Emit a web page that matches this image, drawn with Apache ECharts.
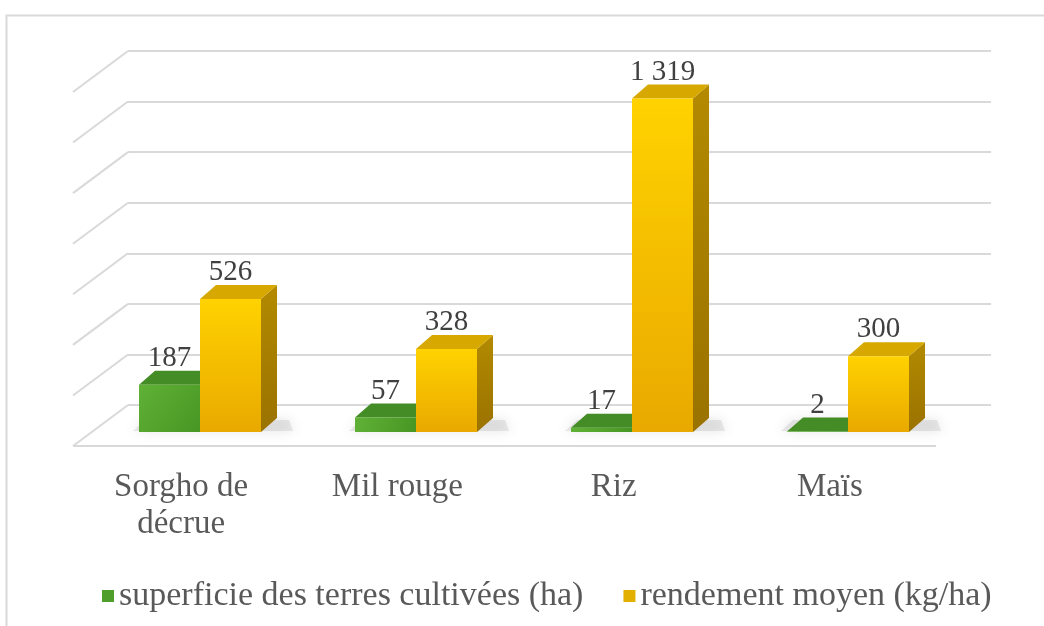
<!DOCTYPE html>
<html>
<head>
<meta charset="utf-8">
<script src="https://cdn.jsdelivr.net/npm/echarts@6/dist/echarts.min.js"></script>
<style>
  html, body { margin: 0; padding: 0; background: #ffffff; }
  #chart { width: 1044px; height: 626px; }
</style>
</head>
<body>
<div id="chart"></div>
<script>
// Crops and their figures
const categories = ['Sorgho de décrue', 'Mil rouge', 'Riz', 'Maïs'];
const superficie = [187, 57, 17, 2];          // superficie des terres cultivées (ha)
const rendement = [526, 328, 1319, 300];      // rendement moyen (kg/ha)
const seriesNames = ['superficie des terres cultivées (ha)', 'rendement moyen (kg/ha)'];
const axisTicks = [0, 200, 400, 600, 800, 1000, 1200, 1400];

const FONT = '"Liberation Serif", "Times New Roman", serif';
const DEPTH_X = 16, DEPTH_Y = -14;     // depth of each 3D bar
const WALL_X = -55, WALL_Y = 41;       // depth of the floor / side wall
const BAR_W = 61;

// French number format: space as thousands separator
function fmt(v) {
  return String(v).replace(/\B(?=(\d{3})+(?!\d))/g, ' ');
}

// long category names go on two lines (last word below)
function wrapLabel(v) {
  return v.length > 12 ? v.replace(/ (?=\S+$)/, '\n') : v;
}

const palettes = [
  { // green
    front: new echarts.graphic.LinearGradient(0, 0, 1, 1, [
      { offset: 0, color: '#60b136' }, { offset: 1, color: '#479624' }]),
    top: '#448c25', side: '#3a7a1e', legend: '#4f9e2c'
  },
  { // gold
    front: new echarts.graphic.LinearGradient(0, 0, 0, 1, [
      { offset: 0, color: '#ffd200' }, { offset: 1, color: '#e9a900' }]),
    top: '#d6a800', side: new echarts.graphic.LinearGradient(0, 0, 0, 1, [
      { offset: 0, color: '#b38a00' }, { offset: 1, color: '#9a7200' }]),
    legend: '#e2b000'
  }
];

function barRenderer(sIdx) {
  return function (params, api) {
    const cat = api.value(0), val = api.value(1);
    const base = api.coord([cat, 0]);
    const top = api.coord([cat, val]);
    const x0 = sIdx === 0 ? base[0] - BAR_W : base[0];
    const x1 = x0 + BAR_W;
    const yb = base[1], yt = Math.min(top[1], yb - 0.6);
    const p = palettes[sIdx];
    return {
      type: 'group',
      children: [
        { type: 'polygon', shape: { points: [[x1, yt], [x1 + DEPTH_X, yt + DEPTH_Y], [x1 + DEPTH_X, yb + DEPTH_Y], [x1, yb]] },
          style: { fill: p.side } },
        { type: 'polygon', shape: { points: [[x0, yt], [x0 + DEPTH_X, yt + DEPTH_Y], [x1 + DEPTH_X, yt + DEPTH_Y], [x1, yt]] },
          style: { fill: p.top } },
        { type: 'rect', shape: { x: x0, y: yt, width: BAR_W, height: yb - yt },
          style: { fill: p.front } },
        { type: 'text', x: (x0 + x1) / 2, y: yt + DEPTH_Y + 2,
          style: { text: fmt(val), font: '29px ' + FONT, fill: '#404040',
                   textAlign: 'center', textVerticalAlign: 'bottom' } }
      ]
    };
  };
}

// soft floor shadow behind each pair of bars
function shadowRenderer(params, api) {
  const cat = api.value(0);
  const base = api.coord([cat, 0]);
  const xl = base[0] - BAR_W, xr = base[0] + BAR_W;
  const yb = base[1];
  return {
    type: 'polygon',
    shape: { points: [[xl - 6, yb - 1], [xr + DEPTH_X + 16, yb - 1], [xr + DEPTH_X + 12, yb + DEPTH_Y + 2], [xl + 6, yb + DEPTH_Y + 2]] },
    style: { fill: 'rgba(170,170,170,0.25)', shadowBlur: 12, shadowColor: 'rgba(110,110,110,0.75)' }
  };
}

// side wall diagonals and floor front edge
function wallRenderer(params, api) {
  const v = api.value(0);
  const pt = api.coord([0, v]);
  const cs = params.coordSys;
  const x = cs.x, y = pt[1];
  const children = [
    { type: 'line', shape: { x1: x, y1: y, x2: x + WALL_X, y2: y + WALL_Y },
      style: { stroke: '#d9d9d9', lineWidth: 2 } }
  ];
  if (v === 0) {
    children.push({ type: 'line',
      shape: { x1: x + WALL_X, y1: y + WALL_Y, x2: x + cs.width + WALL_X, y2: y + WALL_Y },
      style: { stroke: '#d9d9d9', lineWidth: 2 } });
  }
  return { type: 'group', children: children };
}

const chart = echarts.init(document.getElementById('chart'), null, { renderer: 'canvas' });

chart.setOption({
  backgroundColor: '#ffffff',
  animation: false,
  graphic: [{
    type: 'rect', left: 4, top: 13, shape: { width: 1100, height: 700 },
    style: { fill: 'none', stroke: '#d9d9d9', lineWidth: 2 }, silent: true
  }],
  legend: {
    left: 97, top: 574,
    itemWidth: 12, itemHeight: 12, itemGap: 40,
    icon: 'rect',
    data: seriesNames,
    textStyle: { fontFamily: FONT, fontSize: 34, color: '#595959' }
  },
  grid: [
    { left: 128, top: 51, width: 863, height: 354 },   // back wall
    { left: 92, top: 78, width: 864, height: 354 },    // bar plane
    { left: 73, top: 92, width: 865, height: 354 }     // floor front edge
  ],
  xAxis: [
    { gridIndex: 0, type: 'category', data: categories, show: false },
    { gridIndex: 1, type: 'category', data: categories, show: false },
    { gridIndex: 2, type: 'category', data: categories,
      axisLine: { show: false }, axisTick: { show: false },
      axisLabel: { margin: 23, fontFamily: FONT, fontSize: 33, color: '#595959',
                   lineHeight: 37, interval: 0, formatter: wrapLabel } }
  ],
  yAxis: [
    { gridIndex: 0, type: 'value', min: 0, max: 1400, interval: 200,
      axisLabel: { show: false }, axisLine: { show: false }, axisTick: { show: false },
      splitLine: { show: true, lineStyle: { color: '#d9d9d9', width: 2 } } },
    { gridIndex: 1, type: 'value', min: 0, max: 1400, interval: 200, show: false, splitLine: { show: false } },
    { gridIndex: 2, type: 'value', min: 0, max: 1400, interval: 200, show: false, splitLine: { show: false } }
  ],
  series: [
    { type: 'custom', name: 'wall', xAxisIndex: 0, yAxisIndex: 0, silent: true,
      renderItem: wallRenderer, data: axisTicks.map(t => [t]), encode: { y: 0 } },
    { type: 'custom', name: 'shadow', xAxisIndex: 1, yAxisIndex: 1, silent: true,
      renderItem: shadowRenderer, data: categories.map((c, i) => [i, 0]) },
    { type: 'custom', name: seriesNames[0], xAxisIndex: 1, yAxisIndex: 1,
      itemStyle: { color: palettes[0].legend },
      renderItem: barRenderer(0), data: superficie.map((v, i) => [i, v]) },
    { type: 'custom', name: seriesNames[1], xAxisIndex: 1, yAxisIndex: 1,
      itemStyle: { color: palettes[1].legend },
      renderItem: barRenderer(1), data: rendement.map((v, i) => [i, v]) }
  ]
});
</script>
</body>
</html>
